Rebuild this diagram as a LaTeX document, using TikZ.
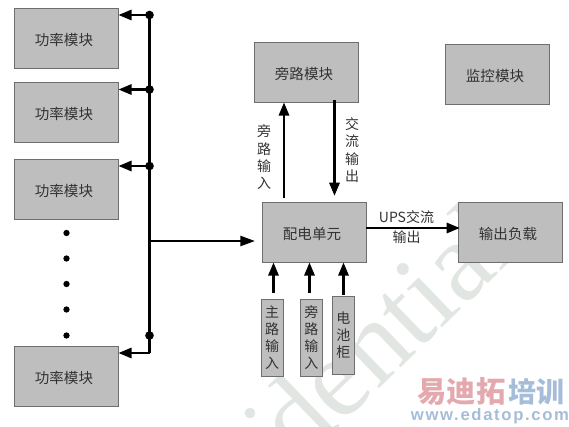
\documentclass[tikz,border=0pt]{standalone}
\usepackage{fontspec}
\setmainfont{Liberation Serif}
\newfontfamily\cjk{Noto Sans CJK SC}
\newfontfamily\logofont[LetterSpace=10]{Liberation Sans}
\usetikzlibrary{arrows.meta}
\definecolor{boxgray}{HTML}{BEBEBE}
\definecolor{boxline}{HTML}{6E6E6E}
\definecolor{marklight}{HTML}{E2E6E2}
\definecolor{logored}{HTML}{E3A9AE}
\definecolor{logoblue}{HTML}{A5BDD8}
\tikzset{
  blockbox/.style={draw=boxline,fill=boxgray,minimum width=78pt,minimum height=45pt,inner sep=0pt,text height=13pt,text depth=2pt,font=\cjk\fontsize{10.9}{12}\selectfont,text=black!80,execute at end node=\hspace{3pt}},
  slimbox/.style={draw=boxline,fill=boxgray,minimum width=16.5pt,minimum height=58pt,inner sep=0pt,align=center,font=\cjk\fontsize{10.5}{12.8}\selectfont,text=black!80},
  sidetext/.style={inner sep=0pt,align=center,font=\cjk\fontsize{10.5}{13}\selectfont,text=black!80},
  wire/.style={line width=2.2pt,-{Triangle[length=10pt,width=7.5pt]}},
  busline/.style={line width=2.2pt},
  mainwire/.style={line width=1.8pt,-{Triangle[length=11pt,width=7.5pt]}},
  junction/.style={circle,fill=black,inner sep=0pt,minimum size=6.5pt},
  listdot/.style={circle,fill=black,inner sep=0pt,minimum size=4.7pt},
  logotext/.style={inner sep=0pt,font=\cjk\bfseries\fontsize{22}{24}\selectfont}
}
\begin{document}
\begin{tikzpicture}[x=0.75pt,y=-0.75pt]
\useasboundingbox (0,0) rectangle (569,426);

% watermark
\begin{scope}
\clip (0,0) rectangle (569,426);
\node[anchor=base west,inner sep=0pt,rotate=44,text=marklight,font=\fontsize{85}{85}\selectfont] (wmark) at (300,465) {dential};
\node[circle,fill=marklight,inner sep=0pt,minimum size=8pt] (wmdot) at (250,413) {};
\end{scope}

% blocks
\node[blockbox] (pwr1) at (66,38) {功率模块};
\node[blockbox] (pwr2) at (66,112.5) {功率模块};
\node[blockbox] (pwr3) at (66,189) {功率模块};
\node[blockbox] (pwr4) at (66,376.5) {功率模块};
\node[blockbox] (bypass) at (306,72) {旁路模块};
\node[blockbox] (monitor) at (497,74) {监控模块};
\node[blockbox] (dist) at (314,232) {配电单元};
\node[blockbox] (load) at (510,232) {输出负载};
\node[slimbox] (mains) at (272.2,337.8) {主\\路\\输\\入};
\node[slimbox] (bypin) at (311.3,337.8) {旁\\路\\输\\入};
\node[slimbox] (batt) at (343.3,335.3) {电\\池\\柜};

\node[listdot] (d1) at (66.5,233) {};
\node[listdot] (d2) at (66.5,258.5) {};
\node[listdot] (d3) at (66.5,284) {};
\node[listdot] (d4) at (66.5,309.5) {};
\node[listdot] (d5) at (66.5,335.5) {};

% bus
\node[junction] (j1) at (149.5,15) {};
\node[junction] (j2) at (149.5,89.5) {};
\node[junction] (j3) at (149.5,166) {};
\node[junction] (j4) at (149.5,335.5) {};
\coordinate (j5) at (149.5,353);
\coordinate (j6) at (149.5,241);
\draw[busline] (j1.center) -- (j5);
\draw[wire] (j1.center) -- (j1 -| pwr1.east);
\draw[wire] (j2.center) -- (j2 -| pwr2.east);
\draw[wire] (j3.center) -- (j3 -| pwr3.east);
\draw[wire] (j5) -- (j5 -| pwr4.east);
\coordinate (s1) at (255,241);
\draw[mainwire] (j6) -- (s1);

% centre
\coordinate (s2) at (284,198);
\coordinate (s3) at (334.5,100);
\coordinate (s4) at (334.5,196);
\draw[wire] (s2) -- (s2 |- bypass.south);
\draw[wire] (s3) -- (s4);
\node[sidetext] (lb1) at (264,157.5) {旁\\路\\输\\入};
\node[sidetext] (lb2) at (352,150) {交\\流\\输\\出};
\coordinate (s5) at (273.5,293);
\coordinate (s6) at (309.5,293);
\coordinate (s7) at (343.5,295);
\draw[wire] (s5) -- (s5 |- dist.south);
\draw[wire] (s6) -- (s6 |- dist.south);
\draw[wire] (s7) -- (s7 |- dist.south);
\coordinate (s8) at (460,228);
\draw[wire] (dist.east |- s8) -- (s8);
\node[sidetext] (lb3) at (406.5,217) {UPS{\cjk 交流}};
\node[sidetext] (lb4) at (406.5,237) {输出};

% logo
\node[logotext,text=logored] (logoa) at (461.5,391.5) {易迪拓};
\node[logotext,text=logoblue,font=\cjk\bfseries\fontsize{21}{24}\selectfont] (logob) at (536.5,391.5) {培训};
\node[inner sep=0pt,text=logoblue,font=\logofont\bfseries\fontsize{12.5}{14}\selectfont] (logoc) at (490,416) {www.edatop.com};
\end{tikzpicture}
\end{document}
